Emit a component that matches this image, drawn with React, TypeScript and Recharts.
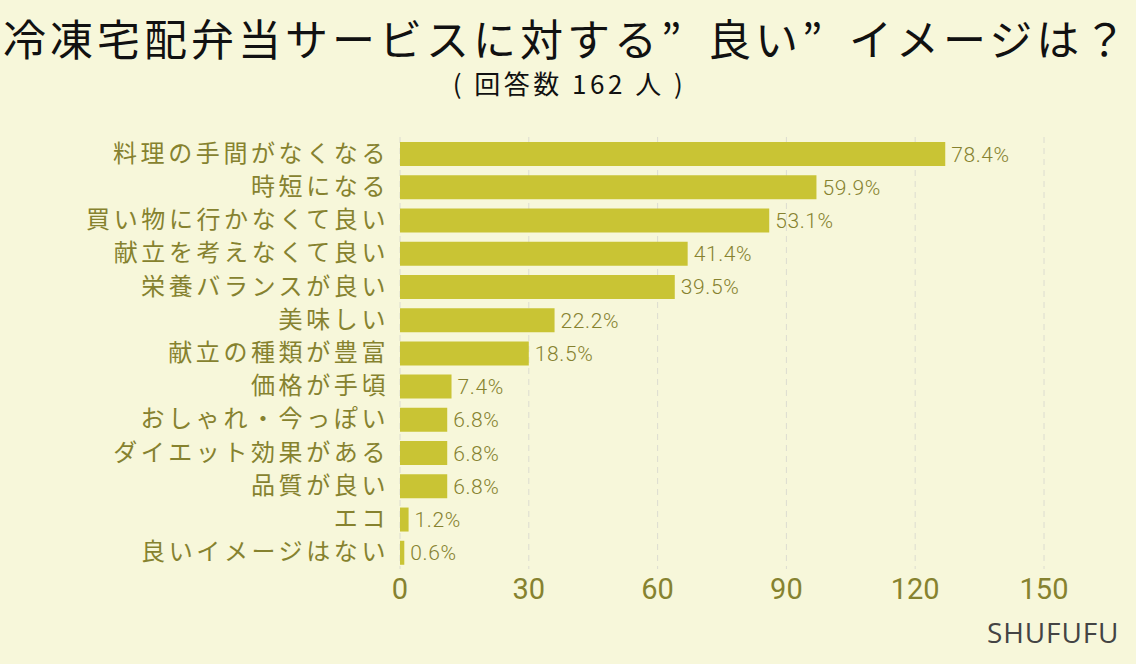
import { BarChart, Bar, XAxis, YAxis, CartesianGrid, LabelList } from "recharts";

const categories = [
  "料理の手間がなくなる",
  "時短になる",
  "買い物に行かなくて良い",
  "献立を考えなくて良い",
  "栄養バランスが良い",
  "美味しい",
  "献立の種類が豊富",
  "価格が手頃",
  "おしゃれ・今っぽい",
  "ダイエット効果がある",
  "品質が良い",
  "エコ",
  "良いイメージはない",
];
const counts = [127, 97, 86, 67, 64, 36, 30, 12, 11, 11, 11, 2, 1];
const percents = ["78.4%", "59.9%", "53.1%", "41.4%", "39.5%", "22.2%", "18.5%", "7.4%", "6.8%", "6.8%", "6.8%", "1.2%", "0.6%"];
const xTicks = [0, 30, 60, 90, 120, 150];

const data = categories.map((name, i) => ({ name, count: counts[i], pct: percents[i] }));

const BG = "#f7f7da";
const BAR = "#c9c434";
const OLIVE = "#86822f";
const FONT = "'Noto Sans CJK JP', 'Noto Sans', sans-serif";

const CatTick = (props: any) => {
  const { x, y, payload } = props;
  return (
    <text x={x - 3} y={y} dy={8} textAnchor="end" fill={OLIVE} fontSize={24} letterSpacing={3.6} fontFamily={FONT}>
      {payload.value}
    </text>
  );
};

const ValueLabel = (props: any) => {
  const { x, y, width, height, index } = props;
  return (
    <text x={x + width + 6} y={y + height / 2} dy={7.5} fill={OLIVE} fontSize={21} fontWeight={300} letterSpacing={0.6} fontFamily="Roboto, sans-serif">
      {percents[index]}
    </text>
  );
};

// full-width quote cell
const Quote = () => (
  <span style={{ display: "inline-block", width: 47, letterSpacing: 0 }}>”</span>
);

export default function App() {
  return (
    <div style={{ position: "absolute", left: 0, top: 0, width: 1136, height: 664, background: BG, fontFamily: FONT }}>
      <div style={{ position: "absolute", left: 3, top: 16, fontSize: 43, letterSpacing: 4, color: "#111", lineHeight: 1, whiteSpace: "nowrap" }}>
        冷凍宅配弁当サービスに対する<Quote />良い<Quote />イメージは？
      </div>
      <div style={{ position: "absolute", left: 0, top: 66, width: 1136, paddingLeft: 3, boxSizing: "border-box", textAlign: "center", fontSize: 26, letterSpacing: 3.5, color: "#111", lineHeight: "34px", whiteSpace: "nowrap" }}>
        ( 回答数 162 人 )
      </div>
      <div style={{ position: "absolute", left: 0, top: 0 }}>
        <BarChart
          width={1136}
          height={664}
          data={data}
          layout="vertical"
          margin={{ top: 137, right: 92, bottom: 55, left: 0 }}
          barCategoryGap={9}
        >
          <CartesianGrid horizontal={false} stroke="#dcdcd0" strokeDasharray="6 5" />
          <XAxis
            type="number"
            domain={[0, 150]}
            ticks={xTicks}
            axisLine={false}
            tickLine={false}
            height={40}
            tick={{ fill: OLIVE, fontSize: 29, fontFamily: "Roboto, sans-serif" }}
            dy={1}
          />
          <YAxis
            type="category"
            dataKey="name"
            width={400}
            axisLine={false}
            tickLine={false}
            tick={<CatTick />}
            interval={0}
          />
          <Bar dataKey="count" fill={BAR} barSize={24} isAnimationActive={false}>
            <LabelList dataKey="pct" content={<ValueLabel />} />
          </Bar>
        </BarChart>
      </div>
      <div style={{ position: "absolute", left: 987, top: 613, fontSize: 28, color: "#444", fontFamily: "'Open Sans', sans-serif", letterSpacing: 0.9 }}>
        SHUFUFU
      </div>
    </div>
  );
}
